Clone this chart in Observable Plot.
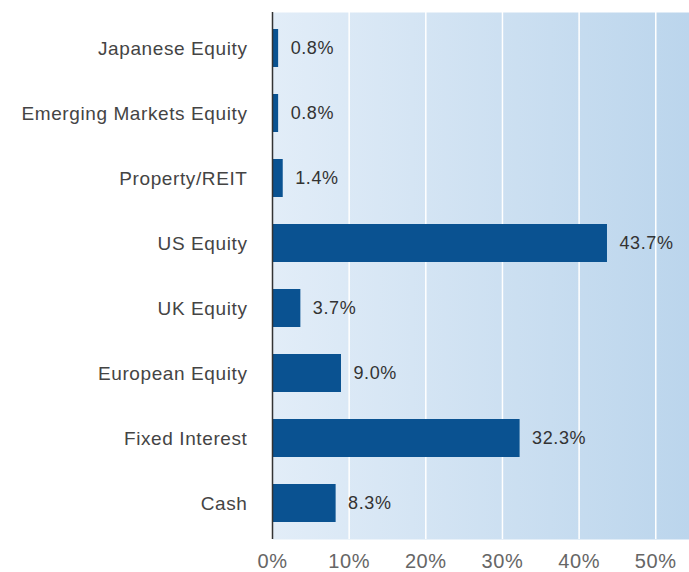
<!DOCTYPE html>
<html><head><meta charset="utf-8">
<script src="https://cdn.jsdelivr.net/npm/d3@7"></script>
<script src="https://cdn.jsdelivr.net/npm/@observablehq/plot@0.6"></script>
<style>
body{margin:0;background:#fff;}
svg text{letter-spacing:0.6px;}
</style>
</head><body>
<div id="chart"></div>
<script>
const categories = ["Japanese Equity","Emerging Markets Equity","Property/REIT","US Equity","UK Equity","European Equity","Fixed Interest","Cash"];
const values = [0.8, 0.8, 1.4, 43.7, 3.7, 9.0, 32.3, 8.3];
const tickValues = [0, 10, 20, 30, 40, 50];

const data = categories.map((c, i) => ({category: c, value: values[i]}));

const gradientDefs = () => {
  const ns = "http://www.w3.org/2000/svg";
  const defs = document.createElementNS(ns, "defs");
  defs.innerHTML = `<linearGradient id="bgGrad" x1="0" x2="1" y1="0" y2="0">
    <stop offset="0" stop-color="#e2edf8"/>
    <stop offset="1" stop-color="#bbd5ec"/>
  </linearGradient>`;
  return defs;
};

const chart = Plot.plot({
  width: 689,
  height: 572,
  marginLeft: 272,
  marginRight: 0,
  marginTop: 12,
  marginBottom: 33,
  style: {fontFamily: "'Liberation Sans', Arial, sans-serif", fontSize: "16px", color: "#333", background: "#fff"},
  x: {domain: [0, 54.4], label: null},
  y: {domain: categories, paddingInner: 0.42, paddingOuter: 0.21, label: null},
  marks: [
    gradientDefs,
    Plot.frame({fill: "url(#bgGrad)", stroke: null}),
    Plot.gridX(tickValues.filter(d => d > 0), {stroke: "#fff", strokeOpacity: 1, strokeWidth: 1.5}),
    Plot.barX(data, {x: "value", y: "category", fill: "#0a5291"}),
    Plot.ruleX([0], {stroke: "#333", strokeWidth: 1.5}),
    Plot.text(data, {x: "value", y: "category", text: d => d.value.toFixed(1) + "%", textAnchor: "start", dx: 12, fill: "#333", fontSize: 18}),
    Plot.axisX({ticks: tickValues, tickFormat: d => d + "%", tickSize: 0, tickPadding: 14, fontSize: 20, fill: "#666", label: null}),
    Plot.axisY({tickSize: 0, tickPadding: 25, fontSize: 19, fill: "#444", label: null})
  ]
});
document.getElementById("chart").appendChild(chart);
</script>
</body></html>
